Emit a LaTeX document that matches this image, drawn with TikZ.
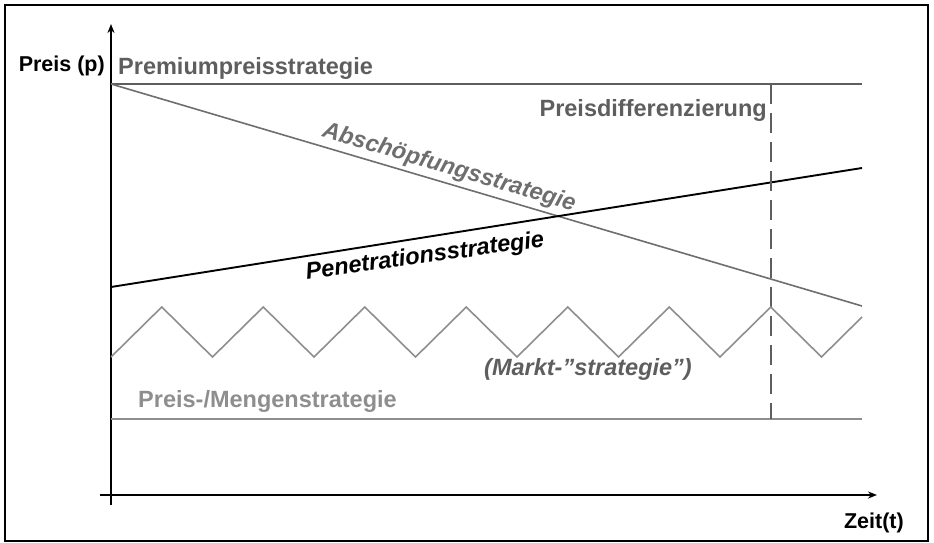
\documentclass[tikz,border=0pt]{standalone}
\usepackage{fontspec}
\setmainfont{Liberation Sans}
\usetikzlibrary{arrows.meta}
\definecolor{darkgray}{HTML}{5E5E5E}
\definecolor{midgray}{HTML}{6E6E6E}
\definecolor{lightgray}{HTML}{8E8E8E}
\tikzset{
  axis/.style={line width=2pt, black, -{Stealth[length=9pt,width=7pt]}},
  graylabel/.style={font=\fontsize{23.5}{28}\selectfont\bfseries, inner sep=0pt},
  axislabel/.style={font=\fontsize{21.5}{25}\selectfont\bfseries, inner sep=0pt, black},
  curve/.style={line width=1.6pt},
}
\begin{document}
\begin{tikzpicture}[x=1pt, y=-1pt]
\useasboundingbox (0,0) rectangle (934,543);
% outer frame
\draw[line width=2pt] (5,5) rectangle (928,541);

% axes
\coordinate (yfoot) at (111,505);
\coordinate (ytop) at (111,24);
\coordinate (xstart) at (100,495);
\coordinate (xend) at (877,495);
\draw[axis] (yfoot) -- (ytop);
\draw[axis] (xstart) -- (xend);

% line end points
\coordinate (premL) at (111,84);
\coordinate (premR) at (862,84);
\coordinate (absR) at (862,306);
\coordinate (penL) at (111,287);
\coordinate (penR) at (862,168);
\coordinate (mengL) at (111,419);
\coordinate (mengR) at (862,419);
\coordinate (diffTop) at (771,84);
\coordinate (diffBot) at (771,419);

% strategy lines
\draw[curve, darkgray, line width=2pt] (premL) -- (premR);
\draw[curve, midgray] (premL) -- (absR);
\draw[curve, black, line width=1.9pt] (penL) -- (penR);
\draw[curve, lightgray, line width=1.8pt] (mengL) -- (mengR);
\draw[darkgray, line width=2.2pt, dash pattern=on 20pt off 9pt] (diffTop) -- (diffBot);

% market price zigzag
\draw[curve, lightgray, line join=miter]
  (111,357) -- (161.75,307) -- (212.5,357) -- (263.25,307) -- (314,357)
  -- (364.75,307) -- (415.5,357) -- (466.25,307) -- (517,357)
  -- (567.75,307) -- (618.5,357) -- (669.25,307) -- (720,357)
  -- (770.75,307) -- (821.5,357) -- (862,317);

% labels
\node[axislabel, anchor=east] (lp) at (105,66) {Preis (p)};
\node[axislabel, anchor=east] (lt) at (904,523) {Zeit(t)};
\node[graylabel, darkgray, anchor=west] (lprem) at (118,68) {Premiumpreisstrategie};
\node[graylabel, darkgray, anchor=east] (ldiff) at (767,110) {Preisdifferenzierung};
\node[graylabel, lightgray, anchor=west] (lmeng) at (138,401) {Preis-/Mengenstrategie};
\node[graylabel, darkgray, anchor=center] (lmarkt) at (588,369) {\itshape (Markt-”strategie”)};
\node[graylabel, midgray, rotate=-16.5] (labs) at (449,168) {\itshape Abschöpfungsstrategie};
\node[graylabel, black, rotate=8] (lpen) at (425,257) {\itshape Penetrationsstrategie};
\end{tikzpicture}
\end{document}
